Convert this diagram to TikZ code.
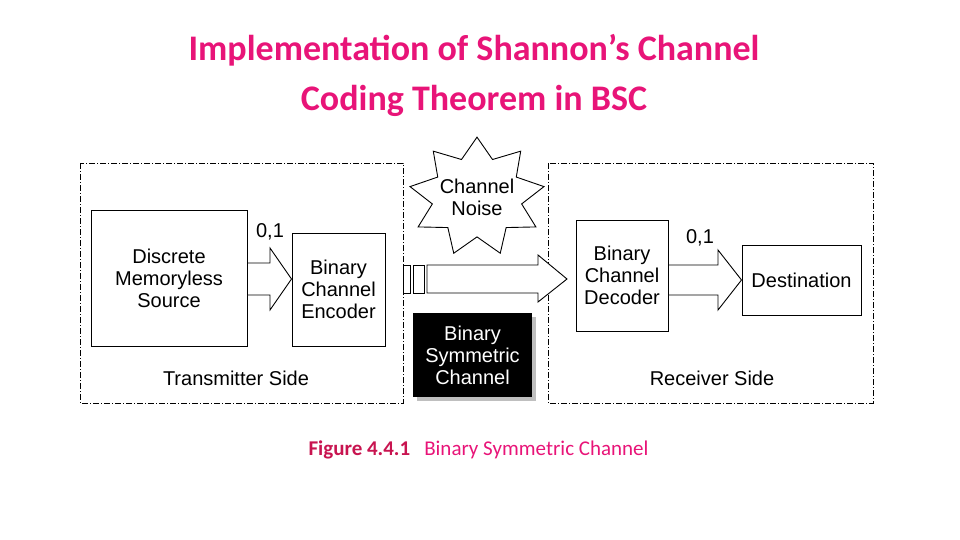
\documentclass[tikz,border=0pt]{standalone}
\usepackage{fontspec}
\setmainfont{Carlito}
\newfontfamily\dg{Liberation Sans}
\usetikzlibrary{shapes.geometric}
\definecolor{pk}{RGB}{232,20,120}
\definecolor{dr}{RGB}{200,20,80}
\tikzset{blk/.style={draw,line width=1pt,fill=white,font=\dg\fontsize{20}{22}\selectfont,align=center,inner sep=0pt},
dbox/.style={draw,line width=0.8pt,dash pattern=on 6pt off 2pt on 1pt off 2pt},
harrow/.style={draw,line width=0.9pt,fill=white},
lab/.style={font=\dg\fontsize{20}{22}\selectfont}}
\begin{document}
\begin{tikzpicture}[x=1pt,y=-1pt]
\useasboundingbox (0,0) rectangle (960,540);
\node[font=\bfseries\fontsize{36}{50}\selectfont,text=pk,align=center] (title) at (474,75) {Implementation of Shannon’s Channel\\Coding Theorem in BSC};
\draw[dbox] (80,163) rectangle (403,403);
\draw[dbox] (548,163) rectangle (873,403);
\node[blk,minimum width=156,minimum height=136] (dms) at (169,278) {Discrete\\Memoryless\\Source};
\node[blk,minimum width=93,minimum height=113] (enc) at (338.5,289.5) {Binary\\Channel\\Encoder};
\node[blk,minimum width=92,minimum height=111] (dec) at (622,275.5) {Binary\\Channel\\Decoder};
\node[blk,minimum width=119,minimum height=70] (dst) at (801.5,280) {Destination};
\draw[harrow] (dms.east|-0,263) -- (270,263) -- (270,248) -- (enc.west|-0,279) -- (270,310) -- (270,295) -- (dms.east|-0,295) -- cycle;
\draw[harrow] (dec.east|-0,265) -- (718,265) -- (718,250) -- (dst.west) -- (718,310) -- (718,295) -- (dec.east|-0,295) -- cycle;
\node[lab] (l1) at (270,232) {0,1};
\node[lab] (l2) at (700,238) {0,1};
\draw[harrow] (427,265) -- (538,265) -- (538,255) -- (567,279) -- (538,302) -- (538,293) -- (427,293) -- cycle;
\draw[harrow] (403,265) rectangle (410,293);
\draw[harrow] (413,265) rectangle (424,293);
\node[star,star points=9,star point ratio=1.5,draw,line width=0.9pt,fill=white,minimum size=136,inner sep=0pt,yscale=0.88] (noise) at (477,197) {};
\node[lab,align=center] at (noise) {Channel\\Noise};
\fill[gray!50] (417,317) rectangle (536,401);
\node[fill=black,text=white,minimum width=119,minimum height=84,inner sep=0pt,align=center,font=\dg\fontsize{20}{22}\selectfont] (bsc) at (472.5,355) {Binary\\Symmetric\\Channel};
\node[lab] (tx) at (236,378) {Transmitter Side};
\node[lab] (rx) at (712,378) {Receiver Side};
\node[font=\fontsize{21}{24}\selectfont,anchor=west] (cap) at (305,450) {\textbf{\textcolor{dr}{Figure 4.4.1}}\hspace{14pt}\textcolor{pk}{Binary Symmetric Channel}};
\end{tikzpicture}
\end{document}
